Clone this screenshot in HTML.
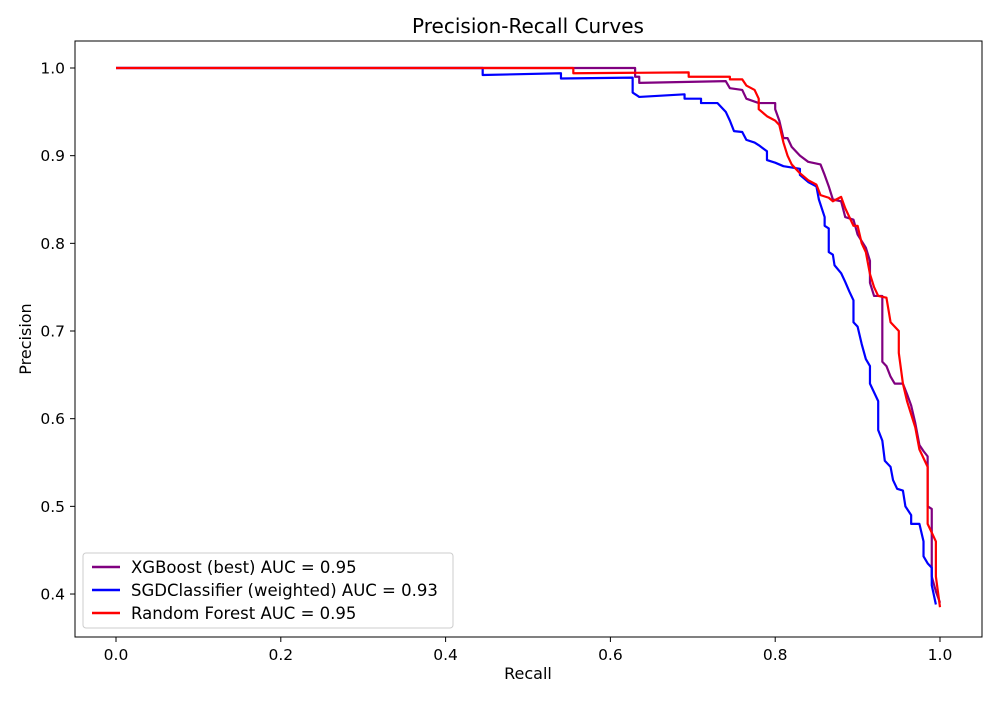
<!DOCTYPE html>
<html><head><meta charset="utf-8"><style>
body{margin:0;background:#fff;font-family:"Liberation Sans","DejaVu Sans",sans-serif}
svg text{font-family:"DejaVu Sans","Liberation Sans",sans-serif}
</style></head><body>
<svg id="chart" width="1000" height="700">
<rect x="0" y="0" width="1000" height="700" fill="#fff"/>
<text x="528" y="33" text-anchor="middle" font-size="20">Precision-Recall Curves</text>
<g id="lines"></g>
<rect x="75" y="41" width="907" height="596" fill="none" stroke="#000" stroke-width="1"/>
<g id="ticks"></g>
<text x="528" y="679" text-anchor="middle" font-size="16">Recall</text>
<text x="31" y="339" text-anchor="middle" font-size="16" transform="rotate(-90 31 339)">Precision</text>
<g>
<rect x="83" y="553" width="370" height="75" rx="3" fill="#fff" fill-opacity="0.8" stroke="#ccc"/>
<g><line x1="92" x2="120" y1="567" y2="567" stroke="#800080" stroke-width="2.5"/><text x="131" y="573" font-size="16.5">XGBoost (best) AUC = 0.95</text></g>
<g><line x1="92" x2="120" y1="590" y2="590" stroke="#0000ff" stroke-width="2.5"/><text x="131" y="596" font-size="16.5">SGDClassifier (weighted) AUC = 0.93</text></g>
<g><line x1="92" x2="120" y1="613" y2="613" stroke="#ff0000" stroke-width="2.5"/><text x="131" y="619" font-size="16.5">Random Forest AUC = 0.95</text></g>
</g>
</svg>
<script>
const xTicks=[0,0.2,0.4,0.6,0.8,1.0];
const yTicks=[0.4,0.5,0.6,0.7,0.8,0.9,1.0];
const xgbRecall=[0,0.63,0.63,0.635,0.635,0.74,0.745,0.76,0.765,0.78,0.8,0.8,0.805,0.81,0.815,0.82,0.83,0.84,0.855,0.86,0.865,0.87,0.88,0.885,0.895,0.9,0.91,0.915,0.915,0.92,0.93,0.93,0.935,0.94,0.945,0.955,0.96,0.965,0.97,0.975,0.98,0.985,0.985,0.99,0.99,0.995,1.0];
const xgbPrecision=[1,1,0.99,0.99,0.983,0.985,0.977,0.975,0.965,0.96,0.96,0.953,0.94,0.92,0.92,0.91,0.9,0.893,0.89,0.878,0.865,0.85,0.848,0.83,0.827,0.81,0.795,0.78,0.755,0.74,0.74,0.665,0.66,0.648,0.64,0.64,0.628,0.615,0.595,0.57,0.563,0.557,0.5,0.497,0.42,0.403,0.39];
const sgdRecall=[0,0.445,0.445,0.54,0.54,0.627,0.627,0.635,0.69,0.69,0.71,0.71,0.73,0.735,0.74,0.745,0.75,0.76,0.765,0.775,0.78,0.79,0.79,0.8,0.81,0.83,0.83,0.84,0.85,0.853,0.86,0.86,0.865,0.865,0.87,0.872,0.88,0.885,0.89,0.895,0.895,0.9,0.905,0.91,0.915,0.915,0.92,0.925,0.925,0.93,0.933,0.94,0.943,0.948,0.955,0.958,0.965,0.965,0.975,0.98,0.98,0.985,0.99,0.99,0.995];
const sgdPrecision=[1,1,0.992,0.994,0.988,0.989,0.972,0.967,0.97,0.965,0.965,0.96,0.96,0.955,0.95,0.94,0.928,0.927,0.918,0.915,0.912,0.905,0.895,0.892,0.888,0.885,0.878,0.87,0.865,0.85,0.83,0.82,0.817,0.79,0.787,0.775,0.766,0.756,0.745,0.735,0.71,0.705,0.685,0.668,0.66,0.64,0.63,0.62,0.587,0.575,0.552,0.545,0.53,0.52,0.518,0.5,0.49,0.48,0.48,0.46,0.443,0.435,0.43,0.41,0.388];
const rfRecall=[0,0.555,0.555,0.695,0.695,0.745,0.745,0.76,0.765,0.775,0.78,0.78,0.79,0.8,0.805,0.81,0.815,0.82,0.83,0.84,0.85,0.855,0.865,0.87,0.88,0.885,0.895,0.9,0.905,0.91,0.915,0.92,0.925,0.935,0.94,0.945,0.95,0.95,0.955,0.96,0.965,0.97,0.975,0.985,0.985,0.99,0.995,0.995,1.0];
const rfPrecision=[1,1,0.994,0.995,0.99,0.99,0.987,0.987,0.98,0.975,0.965,0.953,0.945,0.94,0.935,0.915,0.9,0.89,0.88,0.872,0.867,0.855,0.852,0.848,0.853,0.84,0.82,0.82,0.8,0.79,0.765,0.75,0.74,0.738,0.71,0.705,0.7,0.675,0.64,0.62,0.605,0.59,0.565,0.545,0.48,0.47,0.46,0.42,0.385];
const X=v=>116+v*824;
const Y=v=>68+(1-v)*876.7;
const NS='http://www.w3.org/2000/svg';
const tg=document.getElementById('ticks');
xTicks.forEach(t=>{
 const l=document.createElementNS(NS,'line');
 l.setAttribute('x1',X(t));l.setAttribute('x2',X(t));l.setAttribute('y1',637);l.setAttribute('y2',642);l.setAttribute('stroke','#000');
 
 
 tg.appendChild(l);
 const tx=document.createElementNS(NS,'text');
 tx.setAttribute('x',X(t));tx.setAttribute('y',660);tx.setAttribute('text-anchor','middle');tx.setAttribute('font-size','15.5');
 tx.textContent=t.toFixed(1);
 
 
 tg.appendChild(tx);
});
yTicks.forEach(t=>{
 const l=document.createElementNS(NS,'line');
 l.setAttribute('x1',70);l.setAttribute('x2',75);l.setAttribute('y1',Y(t));l.setAttribute('y2',Y(t));l.setAttribute('stroke','#000');
 
 
 tg.appendChild(l);
 const tx=document.createElementNS(NS,'text');
 tx.setAttribute('x',65);tx.setAttribute('y',Y(t)+5.5);tx.setAttribute('text-anchor','end');tx.setAttribute('font-size','15.5');
 tx.textContent=t.toFixed(1);
 
 
 tg.appendChild(tx);
});
const lg=document.getElementById('lines');
[[xgbRecall,xgbPrecision,'#800080','xgboost-curve'],[sgdRecall,sgdPrecision,'#0000ff','sgd-curve'],[rfRecall,rfPrecision,'#ff0000','random-forest-curve']].forEach(([r,p,c,n])=>{
 const pl=document.createElementNS(NS,'polyline');
 pl.setAttribute('points',r.map((v,i)=>X(v)+','+Y(p[i])).join(' '));
 pl.setAttribute('fill','none');pl.setAttribute('stroke',c);pl.setAttribute('stroke-width','2.2');pl.setAttribute('stroke-linejoin','round');
 
 
 lg.appendChild(pl);
});
</script>
</body></html>
